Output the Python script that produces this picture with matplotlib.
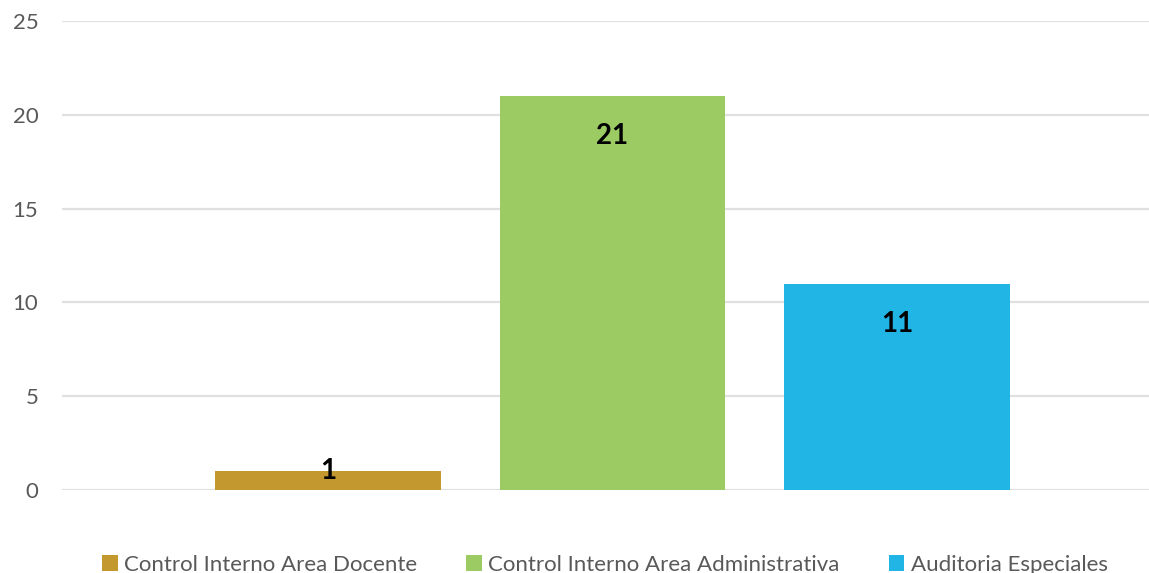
import matplotlib.pyplot as plt

plt.rcParams['font.family'] = ['Lato', 'DejaVu Sans']

categories = ["Control Interno Area Docente",
              "Control Interno Area Administrativa",
              "Auditoria Especiales"]
values = [1, 21, 11]
colors = ["#C3982F", "#9BCB62", "#21B5E6"]
yticks = [0, 5, 10, 15, 20, 25]

fig = plt.figure(figsize=(11.49, 5.73), dpi=100)
ax = fig.add_axes([62 / 1149, 83 / 573, 1 - 62 / 1149, (490 - 21) / 573])

for i, (cat, val, col) in enumerate(zip(categories, values, colors)):
    ax.bar(i, val, width=0.794, color=col, label=cat, zorder=3)
    # label inside the top end, or at the top if the bar is too short
    off = -29 if val > 3 else 0
    ax.annotate(str(val), (i, val), xytext=(0, off), textcoords="offset points",
                ha="center", va="center", fontsize=20, fontweight="bold",
                color="black", zorder=4)

ax.set_xlim(-0.935, 2.886)
ax.set_ylim(0, 25)
ax.set_yticks(yticks)
ax.set_xticks([])
ax.grid(axis="y", color="#E0E0E0", linewidth=1.6, zorder=0)
for s in ax.spines.values():
    s.set_visible(False)
ax.tick_params(axis="y", length=0, pad=17, labelsize=16, labelcolor="#595959")

fig.legend(loc="center", bbox_to_anchor=(605 / 1149, 1 - 565 / 573), ncol=3,
           frameon=False, fontsize=16, labelcolor="#595959",
           handlelength=0.7, handleheight=0.7, handletextpad=0.3,
           columnspacing=2.2)

fig.savefig("out.png", dpi=100)
